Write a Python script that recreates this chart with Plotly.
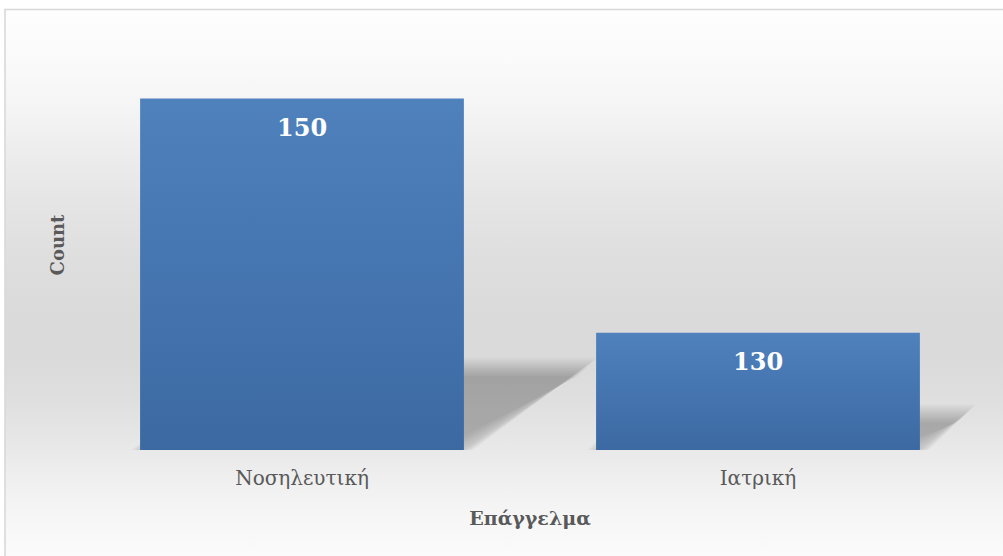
import base64
import plotly.graph_objects as go

# ---- data -------------------------------------------------------------
categories = ["Νοσηλευτική", "Ιατρική"]
counts = [150, 130]
y_axis_range = [120, 155]

x_title = "Επάγγελμα"
y_title = "Count"

# ---- layout geometry (pixels) -----------------------------------------
W, H = 1003, 556
M_L, M_R, M_T, M_B = 74, 17, 40, 106
PLOT_W = W - M_L - M_R
PLOT_H = H - M_T - M_B
BAR_GAP = 0.29

positions = list(range(len(categories)))
x_axis_range = [-0.5, len(categories) - 0.5]
px_per_x = PLOT_W / len(categories)
px_per_y = PLOT_H / (y_axis_range[1] - y_axis_range[0])

SERIF = "DejaVu Serif, Liberation Serif, serif"
GREY_TEXT = "#595959"

# ---- chart-area background: vertical grey gradient with a thin frame ---
grad_stops = [
    (10, 254), (60, 250), (100, 245), (150, 236), (200, 228), (250, 222),
    (300, 218), (340, 218), (380, 223), (420, 231), (450, 238), (480, 244),
    (520, 250), (556, 253),
]
stops_svg = "".join(
    f'<stop offset="{(y - 10) / (H - 10):.4f}" stop-color="rgb({g},{g},{g})"/>'
    for y, g in grad_stops
)
bg_svg = (
    f'<svg xmlns="http://www.w3.org/2000/svg" width="{W}" height="{H}" '
    f'viewBox="0 0 {W} {H}">'
    f'<defs><linearGradient id="g" x1="0" y1="0" x2="0" y2="1">{stops_svg}'
    f'</linearGradient></defs>'
    f'<rect x="0" y="0" width="{W}" height="{H}" fill="#ffffff"/>'
    f'<rect x="5" y="9.5" width="{W + 20}" height="{H + 20}" fill="url(#g)" '
    f'stroke="#d9d9d9" stroke-width="1.6"/>'
    f'</svg>'
)
bg_uri = "data:image/svg+xml;base64," + base64.b64encode(bg_svg.encode()).decode()

fig = go.Figure()

# ---- bars --------------------------------------------------------------
fig.add_trace(go.Bar(
    x=positions,
    y=counts,
    marker=dict(color="#4f81bd", line=dict(width=0)),
    customdata=categories,
    hovertemplate="%{customdata}: %{y}<extra></extra>",
    showlegend=False,
))

# subtle top-to-bottom darkening on each bar
bar_w = 1 - BAR_GAP
for i, v in zip(positions, counts):
    x0, x1 = i - bar_w / 2, i + bar_w / 2
    y0 = y_axis_range[0]
    fig.add_trace(go.Scatter(
        x=[x0, x1, x1, x0, x0],
        y=[y0, y0, v, v, y0],
        mode="lines",
        line=dict(width=0),
        fill="toself",
        fillgradient=dict(
            type="vertical",
            start=y0,
            stop=v,
            colorscale=[[0, "rgba(41,81,135,0.5)"], [1, "rgba(41,81,135,0)"]],
        ),
        hoverinfo="skip",
        showlegend=False,
    ))

# ---- soft perspective shadows cast behind the bars ---------------------
shapes = []
BLUR_STEPS = [-9, -7, -5, -3, -1, 1, 3, 5, 7, 9]
layer_alpha = 1 - (1 - 0.24) ** (1 / len(BLUR_STEPS))
for i, v in zip(positions, counts):
    bar_px = (v - y_axis_range[0]) * px_per_y
    sh_h = 13 + 0.20 * bar_px          # shadow height, px
    sh_dx = 8 + 0.33 * bar_px          # horizontal lean, px
    xl, xr = i - bar_w / 2, i + bar_w / 2
    yb = y_axis_range[0]
    for r in BLUR_STEPS:
        rx = r / px_per_x
        dxu = sh_dx / px_per_x
        yt = yb + (sh_h + r) / px_per_y
        # the shadow rests on the floor line: never spread below it
        ybb = yb + max(-r, 0) / px_per_y
        pts = [
            (xl - rx, ybb),
            (xr + rx, ybb),
            (xr + dxu + rx, yt),
            (xl + dxu - rx, yt),
        ]
        path = "M " + " L ".join(f"{px:.5f},{py:.5f}" for px, py in pts) + " Z"
        shapes.append(dict(
            type="path", path=path, xref="x", yref="y",
            fillcolor=f"rgba(0,0,0,{layer_alpha:.4f})",
            line=dict(width=0), layer="below",
        ))

# ---- value labels --------------------------------------------------------
annotations = [
    dict(
        x=i, y=v, text=f"<b>{v}</b>", showarrow=False,
        yshift=-29, yanchor="middle", xanchor="center",
        font=dict(family=SERIF, size=24, color="#ffffff"),
    )
    for i, v in zip(positions, counts)
]

fig.update_layout(
    width=W, height=H,
    margin=dict(l=M_L, r=M_R, t=M_T, b=M_B, autoexpand=False),
    paper_bgcolor="#ffffff",
    plot_bgcolor="rgba(0,0,0,0)",
    bargap=BAR_GAP,
    shapes=shapes,
    annotations=annotations,
    images=[dict(
        source=bg_uri, xref="paper", yref="paper",
        x=-M_L / PLOT_W, y=1 + M_T / PLOT_H,
        sizex=W / PLOT_W, sizey=H / PLOT_H,
        xanchor="left", yanchor="top", sizing="stretch", layer="below",
    )],
    xaxis=dict(
        range=x_axis_range, tickmode="array",
        tickvals=positions, ticktext=categories,
        showgrid=False, zeroline=False, showline=False, ticks="",
        ticklabelstandoff=14,
        tickfont=dict(family=SERIF, size=20, color=GREY_TEXT),
        title=dict(text=f"<b>{x_title}</b>", standoff=22,
                   font=dict(family=SERIF, size=19, color=GREY_TEXT)),
        automargin=False, fixedrange=True,
    ),
    yaxis=dict(
        range=y_axis_range, showgrid=False, zeroline=False, showline=False,
        ticks="", showticklabels=False,
        title=dict(text=f"<b>{y_title}</b>", standoff=3,
                   font=dict(family=SERIF, size=18, color=GREY_TEXT)),
        automargin=False, fixedrange=True,
    ),
)

fig.write_html("out.html")
